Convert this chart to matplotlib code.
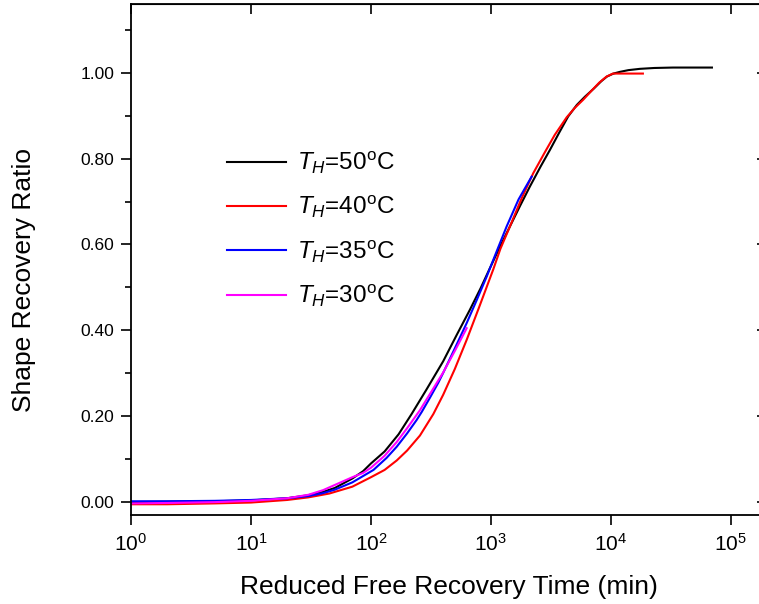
import matplotlib
matplotlib.use("Agg")
import matplotlib.pyplot as plt
from matplotlib.ticker import LogLocator, MultipleLocator, FormatStrFormatter, NullLocator

plt.rcParams['font.family'] = ['Liberation Sans', 'DejaVu Sans']
plt.rcParams['mathtext.fontset'] = 'custom'
plt.rcParams['mathtext.rm'] = 'Liberation Sans'
plt.rcParams['mathtext.it'] = 'Liberation Sans:italic'
plt.rcParams['mathtext.bf'] = 'Liberation Sans:bold'

# ---- data ----
t_50 = [1, 2, 5, 10, 20, 30, 40, 50, 70, 86, 100, 130, 170, 218, 290, 400, 520, 668, 820,
        981, 1200, 1440, 1750, 2113, 2600, 3100, 3700, 4400, 5200, 6066, 7200, 8300, 9260,
        10500, 11900, 14000, 17450, 23000, 32850, 50000, 69500]
v_50 = [0.000, 0.001, 0.002, 0.004, 0.009, 0.016, 0.024, 0.033, 0.055, 0.072, 0.090, 0.118,
        0.158, 0.205, 0.262, 0.328, 0.390, 0.448, 0.498, 0.545, 0.597, 0.642, 0.690, 0.735,
        0.782, 0.820, 0.860, 0.898, 0.925, 0.944, 0.963, 0.980, 0.991, 0.998, 1.002, 1.006,
        1.009, 1.011, 1.012, 1.012, 1.012]

t_40 = [1, 2, 5, 10, 20, 30, 45, 70, 100, 130, 164, 200, 256, 331, 400, 500, 628, 800,
        1046, 1200, 1440, 1800, 2253, 2818, 3400, 4275, 5000, 5875, 7000, 8000, 9200, 10390,
        12000, 15000, 18480]
v_40 = [-0.005, -0.005, -0.003, -0.001, 0.005, 0.011, 0.020, 0.036, 0.058, 0.075, 0.097,
        0.120, 0.155, 0.205, 0.250, 0.310, 0.378, 0.455, 0.542, 0.590, 0.642, 0.707,
        0.766, 0.815, 0.855, 0.896, 0.918, 0.937, 0.960, 0.977, 0.991, 0.998, 0.998, 0.998,
        0.998]

t_35 = [1, 2, 5, 10, 20, 30, 40, 50, 70, 105, 135, 164, 200, 240, 265, 310, 364, 400, 500,
        628, 760, 921, 1120, 1352, 1700, 2184]
v_35 = [0.002, 0.002, 0.003, 0.005, 0.009, 0.014, 0.021, 0.029, 0.046, 0.075, 0.103, 0.129,
        0.160, 0.191, 0.210, 0.243, 0.278, 0.301, 0.358, 0.417, 0.470, 0.525, 0.585, 0.642,
        0.705, 0.758]

t_30 = [1, 2, 5, 10, 20, 30, 40, 50, 70, 86, 100, 130, 164, 200, 256, 320, 400, 500, 628]
v_30 = [-0.003, -0.002, 0.000, 0.003, 0.009, 0.017, 0.028, 0.040, 0.058, 0.068, 0.080, 0.108,
        0.140, 0.172, 0.214, 0.258, 0.302, 0.352, 0.405]

labels = [r'$T_H$=50$^{\mathrm{o}}$C', r'$T_H$=40$^{\mathrm{o}}$C',
          r'$T_H$=35$^{\mathrm{o}}$C', r'$T_H$=30$^{\mathrm{o}}$C']
colors = ['#000000', '#FF0000', '#0000FF', '#FF00FF']

W, H = 759, 604
fig = plt.figure(figsize=(W / 100, H / 100), dpi=100)
L, R, T, B = 131, 767, 4, 515
ax = fig.add_axes([L / W, (H - B) / H, (R - L) / W, (B - T) / H])

for t, v, c, lab in zip([t_50, t_40, t_35, t_30], [v_50, v_40, v_35, v_30], colors, labels):
    ax.plot(t, v, color=c, lw=1.5, label=lab)

ax.set_xscale('log')
ax.set_xlim(1, 2e5)
ax.set_ylim(-0.03, 1.16)

ax.xaxis.set_major_locator(LogLocator(base=10, numticks=10))
ax.xaxis.set_minor_locator(NullLocator())
ax.yaxis.set_major_locator(MultipleLocator(0.2))
ax.yaxis.set_minor_locator(MultipleLocator(0.1))
ax.yaxis.set_major_formatter(FormatStrFormatter('%.2f'))

for s in ax.spines.values():
    s.set_linewidth(1.3)

ax.tick_params(axis='both', which='major', length=7.2, width=1.2, direction='out')
ax.tick_params(axis='both', which='minor', length=4.3, width=1.2, direction='out')
ax.tick_params(axis='x', labelsize=15, pad=6)
ax.tick_params(axis='y', labelsize=12.5, pad=5)

# top / right inward ticks
axt = ax.secondary_xaxis('top')
axt.xaxis.set_major_locator(LogLocator(base=10, numticks=10))
axt.xaxis.set_minor_locator(NullLocator())
axt.tick_params(direction='in', length=7.2, width=1.2, labeltop=False)
axr = ax.secondary_yaxis('right')
axr.yaxis.set_major_locator(MultipleLocator(0.2))
axr.yaxis.set_minor_locator(MultipleLocator(0.1))
axr.tick_params(which='major', direction='in', length=7.2, width=1.2, labelright=False)
axr.tick_params(which='minor', direction='in', length=4.3, width=1.2)

ax.set_xlabel('Reduced Free Recovery Time (min)', fontsize=19)
ax.set_ylabel('Shape Recovery Ratio', fontsize=19)
ax.xaxis.set_label_coords(0.5, -0.118)
ax.yaxis.set_label_coords(-0.149, 0.46)

leg = ax.legend(loc='upper left', bbox_to_anchor=(222 / W, 1 - 145 / H),
                bbox_transform=fig.transFigure, frameon=False, fontsize=17.5,
                handlelength=2.45, handletextpad=0.45, labelspacing=0.75,
                borderpad=0.2, borderaxespad=0)

fig.savefig('out.png', dpi=100)
